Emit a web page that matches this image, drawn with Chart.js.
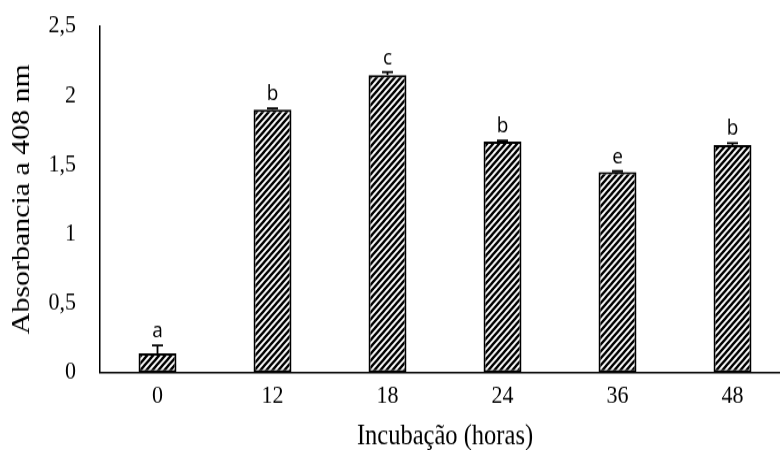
<!DOCTYPE html>
<html>
<head>
<meta charset="utf-8">
<script src="https://cdn.jsdelivr.net/npm/chart.js@4/dist/chart.umd.min.js"></script>
<style>
  html, body { margin: 0; padding: 0; background: #fff; overflow: hidden; }
  #wrap { width: 780px; height: 450px; overflow: hidden; position: relative; }
</style>
</head>
<body>
<div id="wrap"><canvas id="c" width="800" height="391" style="position:absolute;left:0;top:0;display:block;width:800px;height:450px"></canvas></div>
<script>
const categories = ['0', '12', '18', '24', '36', '48'];
const absorbance = [0.137, 1.897, 2.146, 1.665, 1.445, 1.64];
const errorPlus = [0.058, 0.008, 0.022, 0.007, 0.007, 0.015];
const groupLetters = ['a', 'b', 'c', 'b', 'e', 'b'];
const yTicks = [0, 0.5, 1, 1.5, 2, 2.5];

const SERIF = '"Liberation Serif", "Times New Roman", serif';

function makeHatch(ctx) {
  const s = 6;
  const pc = document.createElement('canvas');
  pc.width = s; pc.height = s;
  const g = pc.getContext('2d');
  g.fillStyle = '#fff';
  g.fillRect(0, 0, s, s);
  g.strokeStyle = '#000';
  g.lineWidth = 2.3;
  g.beginPath();
  g.moveTo(-1, s + 1); g.lineTo(s + 1, -1);
  g.moveTo(-1, 1); g.lineTo(1, -1);
  g.moveTo(s - 1, s + 1); g.lineTo(s + 1, s - 1);
  g.stroke();
  return ctx.createPattern(pc, 'repeat');
}

const errorPlugin = {
  id: 'errorLetters',
  afterDatasetsDraw(chart) {
    const ctx = chart.ctx;
    const meta = chart.getDatasetMeta(0);
    const y = chart.scales.y;
    ctx.save();
    ctx.strokeStyle = '#000';
    ctx.lineWidth = 1.8;
    meta.data.forEach((bar, i) => {
      const x = bar.x;
      const top = y.getPixelForValue(absorbance[i]);
      const capY = y.getPixelForValue(absorbance[i] + errorPlus[i]);
      ctx.beginPath();
      ctx.moveTo(x, top);
      ctx.lineTo(x, capY);
      ctx.moveTo(x - 5.5, capY);
      ctx.lineTo(x + 5.5, capY);
      ctx.stroke();
      ctx.fillStyle = '#000';
      ctx.font = '19px "Open Sans", "DejaVu Sans", sans-serif';
      ctx.textAlign = 'center';
      ctx.textBaseline = 'alphabetic';
      ctx.fillText(groupLetters[i], x, capY - 7);
    });
    ctx.restore();
  }
};

const canvas = document.getElementById('c');
const ctx = canvas.getContext('2d');
new Chart(ctx, {
  type: 'bar',
  data: {
    labels: categories,
    datasets: [{
      data: absorbance,
      backgroundColor: makeHatch(ctx),
      borderColor: '#000',
      borderWidth: 2,
      borderSkipped: false,
      barPercentage: 0.66,
      categoryPercentage: 0.5
    }]
  },
  options: {
    responsive: false,
    maintainAspectRatio: false,
    animation: false,
    devicePixelRatio: 1,
    layout: { padding: { top: 22.6, right: 10, left: 0, bottom: 0 } },
    plugins: { legend: { display: false }, tooltip: { enabled: false } },
    scales: {
      x: {
        offset: true,
        grid: { display: false, drawTicks: false },
        border: { display: true, color: '#000', width: 1.5 },
        ticks: {
          color: '#000',
          padding: 8,
          font: { family: SERIF, size: 22 }
        },
        title: {
          display: true,
          text: 'Incubação (horas)',
          color: '#000',
          padding: { top: 0, bottom: 0 },
          font: { family: SERIF, size: 24.5, lineHeight: 0.9 }
        },
        afterFit(scale) {
          scale.height = 67.5;
          scale.paddingLeft = 0; scale.paddingRight = 0;
        }
      },
      y: {
        min: 0,
        max: 2.5,
        grid: { display: false, drawTicks: false },
        border: { display: true, color: '#000', width: 1.5 },
        afterBuildTicks(scale) { scale.ticks = yTicks.map(v => ({ value: v })); },
        ticks: {
          color: '#000',
          padding: 24,
          font: { family: SERIF, size: 22 },
          callback: v => String(v).replace('.', ',')
        },
        title: {
          display: true,
          text: 'Absorbancia a 408 nm',
          color: '#000',
          padding: { top: 9, bottom: 0 },
          font: { family: SERIF, size: 26, lineHeight: 1.0 }
        },
        afterFit(scale) {
          scale.width = 100;
          scale.paddingTop = 0; scale.paddingBottom = 0;
        }
      }
    }
  },
  plugins: [errorPlugin]
});
</script>
</body>
</html>
